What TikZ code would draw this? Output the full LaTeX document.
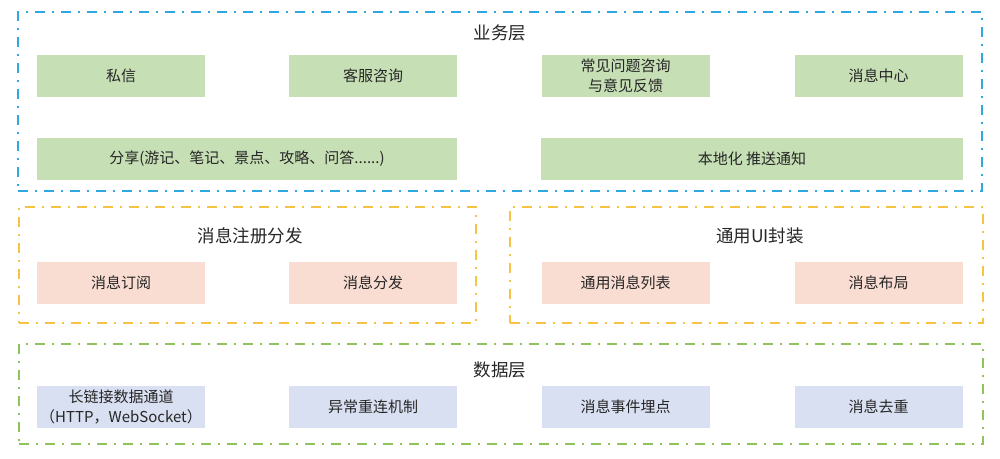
\documentclass[tikz,border=0pt]{standalone}
\usepackage{fontspec}
\newfontfamily\cjk{Noto Sans CJK SC}
\definecolor{boxgreen}{HTML}{C6DFB5}
\definecolor{boxpink}{HTML}{FADDD2}
\definecolor{boxblue}{HTML}{D9E0F1}
\definecolor{frblue}{HTML}{2EA9DF}
\definecolor{fryellow}{HTML}{F6C344}
\definecolor{frgreen}{HTML}{8FC45A}
\definecolor{textc}{HTML}{262626}
\tikzset{
  boxbase/.style={inner sep=0pt, minimum height=42pt, align=center, text=textc,
    font=\cjk\fontsize{15}{20}\selectfont},
  gbox/.style={boxbase, fill=boxgreen, minimum width=168pt},
  pbox/.style={boxbase, fill=boxpink, minimum width=168pt},
  bbox/.style={boxbase, fill=boxblue, minimum width=168pt},
  frame/.style={inner sep=0pt, line width=2pt,
    dash pattern=on 10pt off 7pt on 2pt off 7pt},
  ttl/.style={inner sep=0pt, text=textc, font=\cjk\fontsize{17.5}{20}\selectfont}
}
\begin{document}
\begin{tikzpicture}[x=1pt,y=-1pt]
\useasboundingbox[fill=white] (0,0) rectangle (1000,458);
% frames
\node[frame, draw=frblue, minimum width=964pt, minimum height=179pt] (biz) at (500,101.5) {};
\node[frame, draw=fryellow, minimum width=457pt, minimum height=116pt] (reg) at (247.5,265) {};
\node[frame, draw=fryellow, minimum width=473pt, minimum height=116pt] (ui) at (746.5,265) {};
\node[frame, draw=frgreen, minimum width=964pt, minimum height=100pt] (data) at (501,394) {};
% titles
\node[ttl] (t1) at (500,33) {业务层};
\node[ttl] (t2) at (250,236) {消息注册分发};
\node[ttl] (t3) at (760,236) {通用UI封装};
\node[ttl] (t4) at (500,370) {数据层};
% business layer
\node[gbox] (b1) at (121,76) {私信};
\node[gbox] (b2) at (373,76) {客服咨询};
\node[gbox] (b3) at (625.5,76) {常见问题咨询\\与意见反馈};
\node[gbox] (b4) at (878.5,76) {消息中心};
\node[gbox, minimum width=420pt] (b5) at (247,158.5) {分享(游记、笔记、景点、攻略、问答......)};
\node[gbox, minimum width=422pt] (b6) at (752,158.5) {本地化 推送通知};
% middle
\node[pbox] (p1) at (121,282.5) {消息订阅};
\node[pbox] (p2) at (373,282.5) {消息分发};
\node[pbox] (p3) at (625.5,282.5) {通用消息列表};
\node[pbox] (p4) at (878.5,282.5) {消息布局};
% data layer
\node[bbox] (d1) at (121,407) {长链接数据通道\\（HTTP，WebSocket）};
\node[bbox] (d2) at (373,407) {异常重连机制};
\node[bbox] (d3) at (625.5,407) {消息事件埋点};
\node[bbox] (d4) at (878.5,407) {消息去重};
\end{tikzpicture}
\end{document}
